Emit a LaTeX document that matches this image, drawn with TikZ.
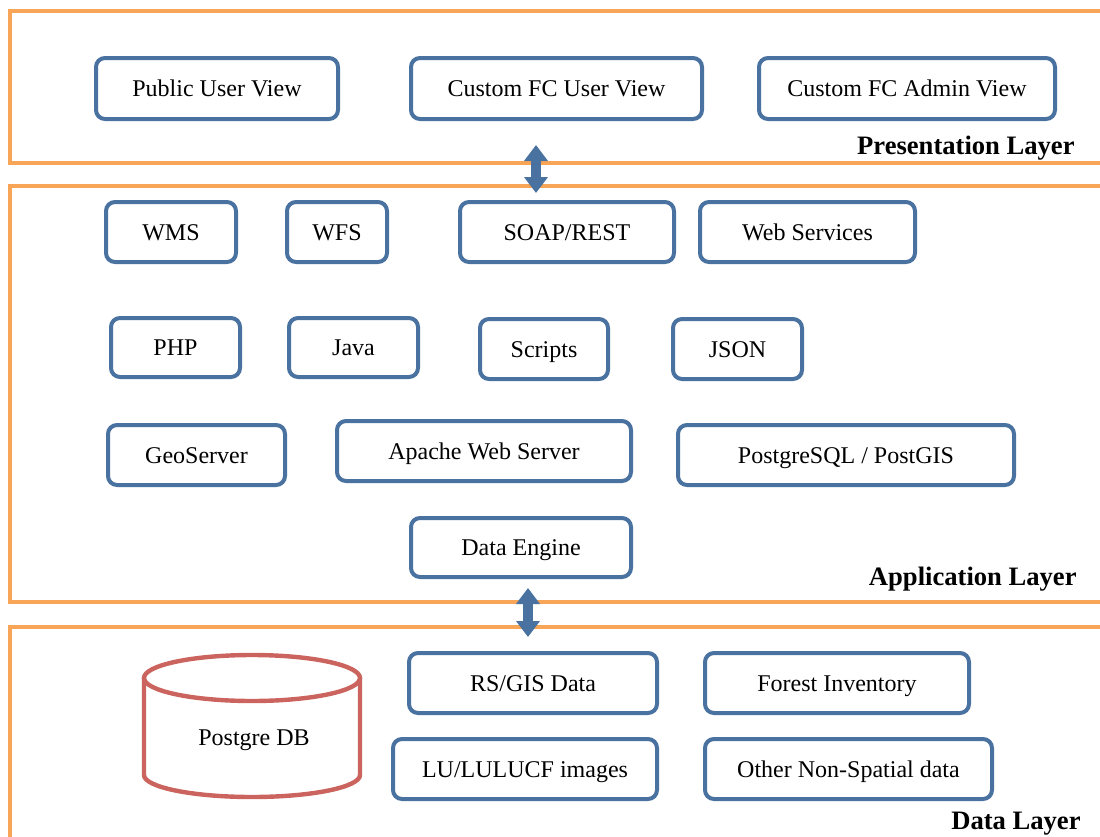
\documentclass[tikz,border=0pt]{standalone}
\usepackage{fontspec}
\setmainfont{Liberation Serif}
\usetikzlibrary{arrows.meta}
\definecolor{boxblue}{HTML}{4A72A0}
\definecolor{layerorange}{HTML}{F9A557}
\definecolor{dbred}{HTML}{CB645E}
\begin{document}
\begin{tikzpicture}[x=0.5pt,y=-0.5pt,
  box/.style={draw=boxblue, line width=2pt, rounded corners=4.5pt, fill=white,
    minimum height=30pt, inner sep=0pt, font=\fontsize{12}{14}\selectfont, text=black,
    text height=8.4pt, text depth=0.2pt},
  layer/.style={draw=layerorange, line width=2pt},
  layerlabel/.style={anchor=east, font=\fontsize{13.3}{16}\selectfont\bfseries, inner sep=0pt},
  dbline/.style={draw=dbred, line width=2.2pt},
  dblarrow/.style={draw=boxblue, line width=5pt, {Triangle[width=11.5pt,length=8pt]}-{Triangle[width=11.5pt,length=8pt]}}
]
\useasboundingbox (0,0) rectangle (1100,837);

% layers
\draw[layer] (1120,11) -- (10,11) -- (10,163) -- (1120,163);
\draw[layer] (1120,186) -- (10,186) -- (10,602) -- (1120,602);
\draw[layer] (1120,627) -- (10,627) -- (10,850);
\coordinate (presbot) at (536,145);
\coordinate (apptop) at (536,193);
\coordinate (appbot) at (528,588);
\coordinate (datatop) at (528,637);

\node[layerlabel] (lp) at (1075,148) {Presentation Layer};
\node[layerlabel] (la) at (1077,579) {Application Layer};
\node[layerlabel] (ld) at (1081,824) {Data Layer};

% presentation
\node[box, minimum width=121pt, minimum height=30.5pt] (puv) at (217,88.5) {Public User View};
\node[box, minimum width=145.5pt, minimum height=30.5pt] (cfu) at (556.5,88.5) {Custom FC User View};
\node[box, minimum width=148pt, minimum height=30.5pt] (cfa) at (907,88.5) {Custom FC Admin View};

% application
\node[box, minimum width=65pt] (wms) at (171,232) {WMS};
\node[box, minimum width=50pt] (wfs) at (337,232) {WFS};
\node[box, minimum width=107pt] (soap) at (567,232) {SOAP/REST};
\node[box, minimum width=107.5pt] (ws) at (807.5,232) {Web Services};

\node[box, minimum width=64.5pt, minimum height=29.5pt] (php) at (175.5,347.5) {PHP};
\node[box, minimum width=64.5pt, minimum height=29.5pt] (java) at (353.5,347.5) {Java};
\node[box, minimum width=64pt] (scr) at (544,349) {Scripts};
\node[box, minimum width=64.5pt] (json) at (737.5,349) {JSON};

\node[box, minimum width=88.5pt] (geo) at (196.5,455) {GeoServer};
\node[box, minimum width=147pt] (apache) at (484,451) {Apache Web Server};
\node[box, minimum width=168pt] (pg) at (846,455) {PostgreSQL / PostGIS};

\node[box, minimum width=110pt, minimum height=29.5pt] (de) at (521,547.5) {Data Engine};

% data
\node[box, minimum width=124pt] (rs) at (533,683) {RS/GIS Data};
\node[box, minimum width=132pt] (fi) at (837,683) {Forest Inventory};
\node[box, minimum width=132pt] (lu) at (525,769) {LU/LULUCF images};
\node[box, minimum width=143.5pt] (ons) at (848.5,769) {Other Non-Spatial data};

% database cylinder
\draw[dbline] (144,678) -- (144,775) arc[start angle=180, end angle=0, x radius=108, y radius=22] -- (360,678);
\draw[dbline] (252,678) ellipse[x radius=108, y radius=23];
\node[font=\fontsize{12}{14}\selectfont] (db) at (254,740) {Postgre DB};

% arrows between layers
\draw[dblarrow] (presbot) -- (apptop);
\draw[dblarrow] (appbot) -- (datatop);
\end{tikzpicture}
\end{document}
